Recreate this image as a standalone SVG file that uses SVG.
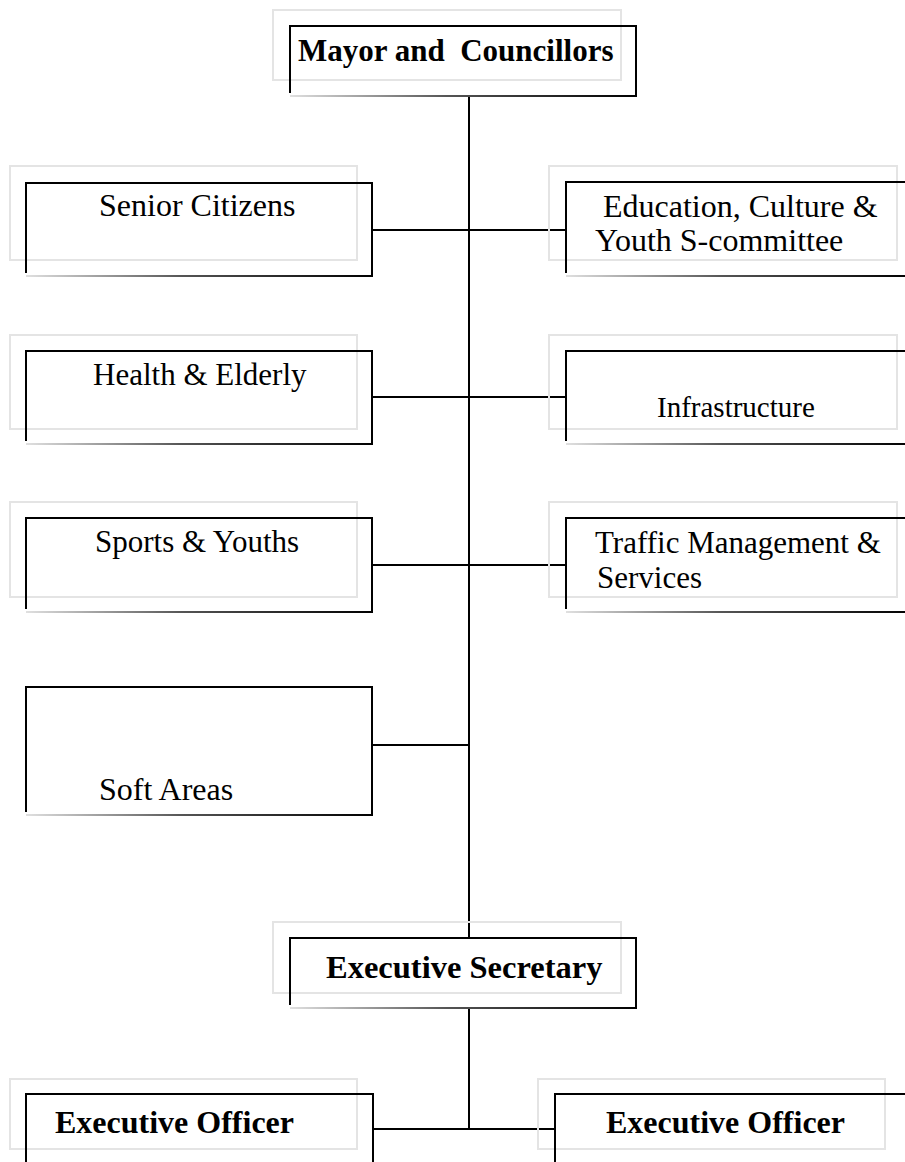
<svg xmlns="http://www.w3.org/2000/svg" width="905" height="1162" viewBox="0 0 905 1162">
<defs>
<linearGradient id="fade" x1="0" y1="0" x2="1" y2="0">
<stop offset="0" stop-color="#e0e0e0"/>
<stop offset="0.45" stop-color="#555"/>
<stop offset="1" stop-color="#000"/>
</linearGradient>
<style>
.shadow{fill:none;stroke:#e4e4e4;stroke-width:2}
.box{fill:none;stroke:#000;stroke-width:2}
.base{fill:url(#fade)}
text{font-family:'Liberation Serif','Times New Roman',Times,serif;font-size:31px;fill:#000}
.b{font-weight:bold}
.l{font-size:32px}
.s{font-size:29px}
.conn{stroke:#000;stroke-width:2;fill:none}
</style>
</defs>
<rect width="905" height="1162" fill="#fff"/>

<g id="connectors">
<line class="conn" x1="469" y1="96" x2="469" y2="938"/>
<line class="conn" x1="372" y1="230" x2="566" y2="230"/>
<line class="conn" x1="372" y1="397" x2="566" y2="397"/>
<line class="conn" x1="372" y1="565" x2="566" y2="565"/>
<line class="conn" x1="372" y1="745" x2="469" y2="745"/>
<line class="conn" x1="469" y1="1008" x2="469" y2="1129"/>
<line class="conn" x1="373" y1="1129" x2="555" y2="1129"/>
</g>

<g id="mayor">
<rect class="shadow" x="273" y="10" width="348" height="70"/>
<path class="box" d="M290,93 V26 H636 V96"/>
<rect class="base" x="290" y="95" width="347" height="2"/>
<text class="b" x="298" y="61" xml:space="preserve">Mayor and  Councillors</text>
</g>

<g id="senior-citizens">
<rect class="shadow" x="10" y="166" width="347" height="94"/>
<path class="box" d="M26,273 V183 H372 V276"/>
<rect class="base" x="26" y="275" width="347" height="2"/>
<text class="l" x="99" y="216">Senior Citizens</text>
</g>

<g id="education">
<rect class="shadow" x="549" y="166" width="348" height="94"/>
<path class="box" d="M566,273 V182 H912"/>
<rect class="base" x="566" y="275" width="346" height="2"/>
<text class="l" x="603" y="217">Education, Culture &amp;</text>
<text class="l" x="595" y="251">Youth S-committee</text>
</g>

<g id="health">
<rect class="shadow" x="10" y="335" width="347" height="94"/>
<path class="box" d="M26,441 V351 H372 V444"/>
<rect class="base" x="26" y="443" width="347" height="2"/>
<text x="93" y="385">Health &amp; Elderly</text>
</g>

<g id="infrastructure">
<rect class="shadow" x="549" y="335" width="348" height="94"/>
<path class="box" d="M566,441 V351 H912"/>
<rect class="base" x="566" y="443" width="346" height="2"/>
<text class="s" x="657" y="417">Infrastructure</text>
</g>

<g id="sports">
<rect class="shadow" x="10" y="502" width="347" height="95"/>
<path class="box" d="M26,609 V518 H372 V612"/>
<rect class="base" x="26" y="611" width="347" height="2"/>
<text x="95" y="552">Sports &amp; Youths</text>
</g>

<g id="traffic">
<rect class="shadow" x="549" y="502" width="348" height="95"/>
<path class="box" d="M566,609 V518 H912"/>
<rect class="base" x="566" y="611" width="346" height="2"/>
<text x="595" y="553">Traffic Management &amp;</text>
<text x="597" y="588">Services</text>
</g>

<g id="soft-areas">
<path class="box" d="M26,812 V687 H372 V815"/>
<rect class="base" x="26" y="814" width="347" height="2"/>
<text class="l" x="99" y="800">Soft Areas</text>
</g>

<g id="executive-secretary">
<rect class="shadow" x="273" y="922" width="348" height="71"/>
<path class="box" d="M290,1005 V938 H636 V1008"/>
<rect class="base" x="290" y="1007" width="347" height="2"/>
<text class="b" x="326" y="978" style="font-size:32.5px">Executive Secretary</text>
</g>

<g id="executive-officer-left">
<rect class="shadow" x="10" y="1079" width="347" height="70"/>
<path class="box" d="M26,1170 V1094 H373 V1170"/>
<text class="b l" x="55" y="1133">Executive Officer</text>
</g>

<g id="executive-officer-right">
<rect class="shadow" x="538" y="1079" width="347" height="70"/>
<path class="box" d="M555,1170 V1094 H912"/>
<text class="b l" x="606" y="1133">Executive Officer</text>
</g>
</svg>
